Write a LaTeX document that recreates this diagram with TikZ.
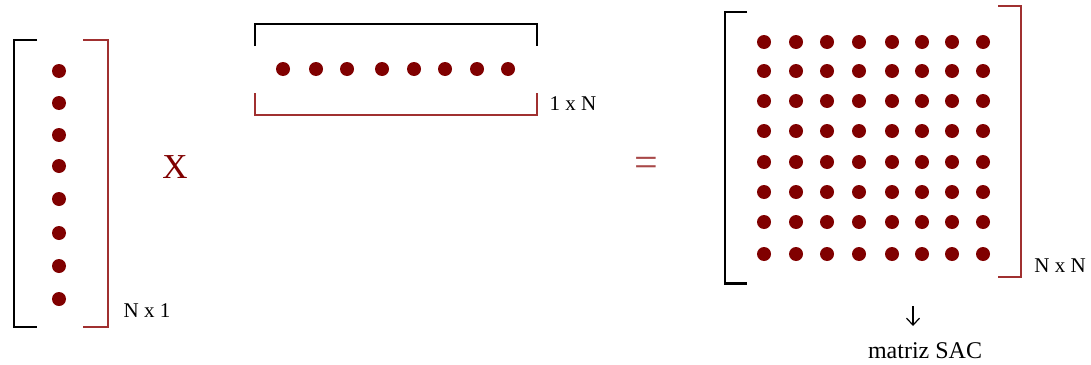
\documentclass[tikz,border=0pt]{standalone}
\usepackage{fontspec}
\setmainfont{Liberation Serif}
\usetikzlibrary{arrows.meta}
\definecolor{dotred}{HTML}{800000}
\definecolor{brred}{HTML}{A03030}
\definecolor{eqred}{HTML}{A84848}
\begin{document}
\begin{tikzpicture}[x=1pt,y=-1pt,
  dot/.style={circle,fill=dotred,inner sep=0pt,minimum size=14pt},
  blk/.style={draw=black,line width=2pt},
  redb/.style={draw=brred,line width=1.8pt},
  lbl/.style={inner sep=0pt,font=\fontsize{21}{21}\selectfont},
  op/.style={inner sep=0pt,text=brred}]
\useasboundingbox (0,0) rectangle (1091,364);
% left column vector
\draw[blk] (37,40) -- (14,40) -- (14,327) -- (37,327);
\draw[redb] (83,40) -- (108,40) -- (108,327) -- (83,327);
\foreach \i/\y in {1/71,2/103,3/135,4/166,5/199,6/233,7/266,8/299}
  \node[dot] (c\i) at (59,\y) {};
\node[lbl] (nx1) at (147,311) {N x 1};
% times sign
\node[op,text=dotred,font=\fontsize{35}{35}\selectfont] (times) at (175,167) {X};
% top row vector
\draw[blk] (255,46) -- (255,24) -- (537,24) -- (537,46);
\draw[redb] (255,93) -- (255,115) -- (537,115) -- (537,93);
\foreach \i/\x in {1/283,2/316,3/347,4/382,5/414,6/445,7/477,8/508}
  \node[dot] (r\i) at (\x,69) {};
\node[lbl] (onxn) at (573,104) {1 x N};
% equals
\node[op,text=eqred,font=\fontsize{42}{42}\selectfont] (eq) at (646,167) {=};
% result matrix
\draw[blk] (747,12) -- (725,12) -- (725,283);
\draw[draw=black,line width=3pt] (724,283) -- (747,283);
\draw[redb] (998,6) -- (1021,6) -- (1021,277) -- (998,277);
\foreach \j/\y in {1/42,2/71,3/101,4/131,5/162,6/192,7/222,8/254}
  \foreach \i/\x in {1/764,2/796,3/827,4/859,5/892,6/922,7/952,8/983}
    \node[dot] (m\j\i) at (\x,\y) {};
\node[lbl] (nxn) at (1060,266) {N x N};
% arrow and caption
\node[lbl,font=\fontsize{24}{24}\selectfont,anchor=base] (sac) at (925,358) {matriz SAC};
\coordinate (arrtop) at (913,306);
\draw[line width=1.2pt,-{Straight Barb[length=7pt,width=13pt,line width=1.2pt]}] (arrtop) -- (913,326);
\end{tikzpicture}
\end{document}
